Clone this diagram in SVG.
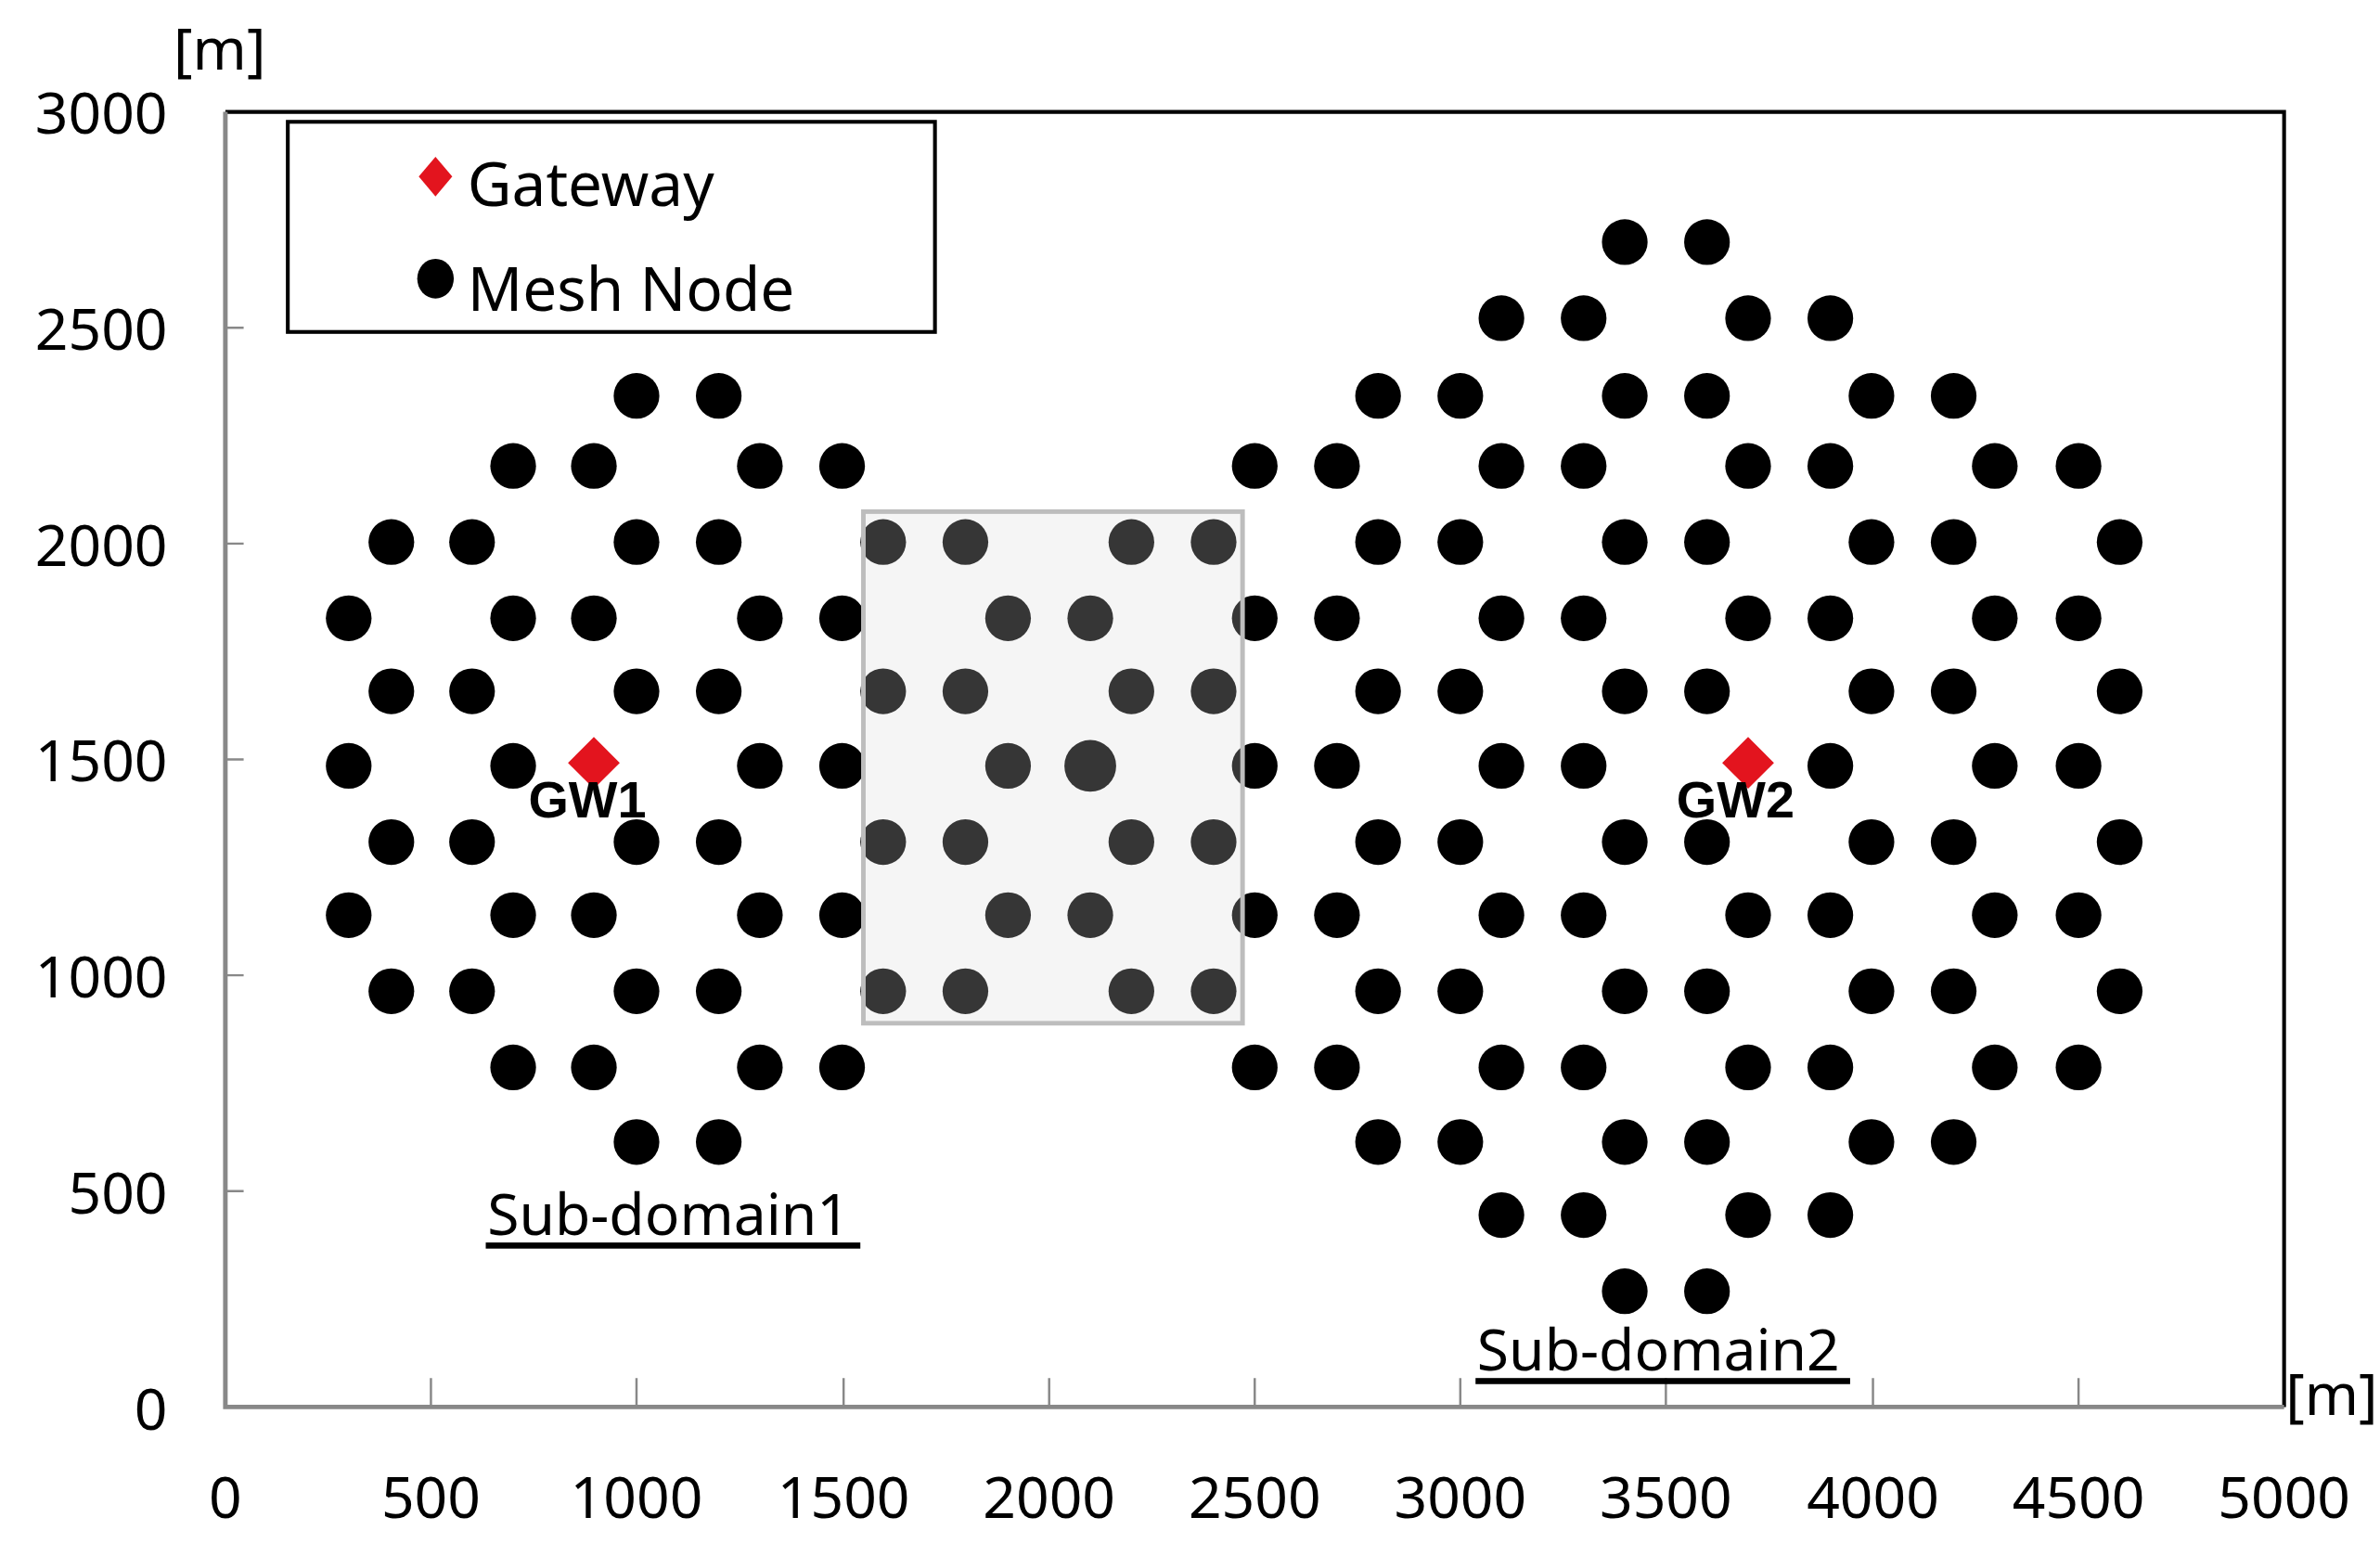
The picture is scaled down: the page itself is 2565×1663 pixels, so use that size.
<svg xmlns="http://www.w3.org/2000/svg" width="2565" height="1663" viewBox="0 0 2565 1663">
<style>
text{font-family:"Noto Sans","Open Sans",sans-serif;fill:#000}
.t{font-size:38px}
.lg{font-size:40px}
.yl{text-anchor:end}
.xl{text-anchor:middle}
.n{fill:#000}
.gw{font-weight:bold;font-size:34px;font-family:"Liberation Sans",Arial,sans-serif}
</style>
<defs>
<circle id="d" r="15" class="n"/>
<path id="dm" d="M0,-17 L17,0 L0,17 L-17,0Z" fill="#e3141e"/>
</defs>
<rect width="2565" height="1663" fill="#fff"/>
<g transform="scale(1.6411)">
<g id="axes">
<path d="M148,73.5 H1500 V924" fill="none" stroke="#000" stroke-width="2.5"/>
<path d="M148,73.5 V924 H1500" fill="none" stroke="#888" stroke-width="3"/>
<g stroke="#888" stroke-width="1.5">
<path d="M283,924V905M418,924V905M554,924V905M689,924V905M824,924V905M959,924V905M1094,924V905M1230,924V905M1365,924V905"/>
<path d="M148,215.2H160M148,357H160M148,498.7H160M148,640.5H160M148,782.2H160"/>
</g>
<g class="t yl">
<text x="110" y="88">3000</text><text x="110" y="230">2500</text><text x="110" y="372">2000</text><text x="110" y="513">1500</text><text x="110" y="655">1000</text><text x="110" y="797">500</text><text x="110" y="939">0</text>
</g>
<g class="t xl">
<text x="148" y="997">0</text><text x="283" y="997">500</text><text x="418" y="997">1000</text><text x="554" y="997">1500</text><text x="689" y="997">2000</text><text x="824" y="997">2500</text><text x="959" y="997">3000</text><text x="1094" y="997">3500</text><text x="1230" y="997">4000</text><text x="1365" y="997">4500</text><text x="1500" y="997">5000</text>
</g>
<text class="t" x="114" y="46">[m]</text>
<text class="t" x="1501" y="929">[m]</text>
</g>
<g id="nodes">
<use href="#d" x="418" y="260"/><use href="#d" x="472" y="260"/>
<use href="#d" x="337" y="306"/><use href="#d" x="390" y="306"/><use href="#d" x="499" y="306"/><use href="#d" x="553" y="306"/>
<use href="#d" x="257" y="356"/><use href="#d" x="310" y="356"/><use href="#d" x="418" y="356"/><use href="#d" x="472" y="356"/>
<use href="#d" x="580" y="356"/><use href="#d" x="634" y="356"/><use href="#d" x="743" y="356"/><use href="#d" x="797" y="356"/>
<use href="#d" x="229" y="406"/><use href="#d" x="337" y="406"/><use href="#d" x="390" y="406"/><use href="#d" x="499" y="406"/><use href="#d" x="553" y="406"/><use href="#d" x="662" y="406"/><use href="#d" x="716" y="406"/>
<use href="#d" x="257" y="454"/><use href="#d" x="310" y="454"/><use href="#d" x="418" y="454"/><use href="#d" x="472" y="454"/><use href="#d" x="580" y="454"/><use href="#d" x="634" y="454"/><use href="#d" x="743" y="454"/><use href="#d" x="797" y="454"/>
<use href="#d" x="229" y="503"/><use href="#d" x="337" y="503"/><use href="#d" x="499" y="503"/><use href="#d" x="553" y="503"/><use href="#d" x="662" y="503"/><circle cx="716" cy="503" r="17"/>
<use href="#d" x="257" y="553"/><use href="#d" x="310" y="553"/><use href="#d" x="418" y="553"/><use href="#d" x="472" y="553"/><use href="#d" x="580" y="553"/><use href="#d" x="634" y="553"/><use href="#d" x="743" y="553"/><use href="#d" x="797" y="553"/>
<use href="#d" x="229" y="601"/><use href="#d" x="337" y="601"/><use href="#d" x="390" y="601"/><use href="#d" x="499" y="601"/><use href="#d" x="553" y="601"/><use href="#d" x="662" y="601"/><use href="#d" x="716" y="601"/>
<use href="#d" x="257" y="651"/><use href="#d" x="310" y="651"/><use href="#d" x="418" y="651"/><use href="#d" x="472" y="651"/><use href="#d" x="580" y="651"/><use href="#d" x="634" y="651"/><use href="#d" x="743" y="651"/><use href="#d" x="797" y="651"/>
<use href="#d" x="337" y="701"/><use href="#d" x="390" y="701"/><use href="#d" x="499" y="701"/><use href="#d" x="553" y="701"/>
<use href="#d" x="418" y="750"/><use href="#d" x="472" y="750"/>
<use href="#d" x="1067" y="159"/><use href="#d" x="1121" y="159"/>
<use href="#d" x="986" y="209"/><use href="#d" x="1040" y="209"/><use href="#d" x="1148" y="209"/><use href="#d" x="1202" y="209"/>
<use href="#d" x="905" y="260"/><use href="#d" x="959" y="260"/><use href="#d" x="1067" y="260"/><use href="#d" x="1121" y="260"/><use href="#d" x="1229" y="260"/><use href="#d" x="1283" y="260"/>
<use href="#d" x="824" y="306"/><use href="#d" x="878" y="306"/><use href="#d" x="986" y="306"/><use href="#d" x="1040" y="306"/><use href="#d" x="1148" y="306"/><use href="#d" x="1202" y="306"/><use href="#d" x="1310" y="306"/><use href="#d" x="1365" y="306"/>
<use href="#d" x="905" y="356"/><use href="#d" x="959" y="356"/><use href="#d" x="1067" y="356"/><use href="#d" x="1121" y="356"/><use href="#d" x="1229" y="356"/><use href="#d" x="1283" y="356"/><use href="#d" x="1392" y="356"/>
<use href="#d" x="824" y="406"/><use href="#d" x="878" y="406"/><use href="#d" x="986" y="406"/><use href="#d" x="1040" y="406"/><use href="#d" x="1148" y="406"/><use href="#d" x="1202" y="406"/><use href="#d" x="1310" y="406"/><use href="#d" x="1365" y="406"/>
<use href="#d" x="905" y="454"/><use href="#d" x="959" y="454"/><use href="#d" x="1067" y="454"/><use href="#d" x="1121" y="454"/><use href="#d" x="1229" y="454"/><use href="#d" x="1283" y="454"/><use href="#d" x="1392" y="454"/>
<use href="#d" x="824" y="503"/><use href="#d" x="878" y="503"/><use href="#d" x="986" y="503"/><use href="#d" x="1040" y="503"/><use href="#d" x="1202" y="503"/><use href="#d" x="1310" y="503"/><use href="#d" x="1365" y="503"/>
<use href="#d" x="905" y="553"/><use href="#d" x="959" y="553"/><use href="#d" x="1067" y="553"/><use href="#d" x="1121" y="553"/><use href="#d" x="1229" y="553"/><use href="#d" x="1283" y="553"/><use href="#d" x="1392" y="553"/>
<use href="#d" x="824" y="601"/><use href="#d" x="878" y="601"/><use href="#d" x="986" y="601"/><use href="#d" x="1040" y="601"/><use href="#d" x="1148" y="601"/><use href="#d" x="1202" y="601"/><use href="#d" x="1310" y="601"/><use href="#d" x="1365" y="601"/>
<use href="#d" x="905" y="651"/><use href="#d" x="959" y="651"/><use href="#d" x="1067" y="651"/><use href="#d" x="1121" y="651"/><use href="#d" x="1229" y="651"/><use href="#d" x="1283" y="651"/><use href="#d" x="1392" y="651"/>
<use href="#d" x="824" y="701"/><use href="#d" x="878" y="701"/><use href="#d" x="986" y="701"/><use href="#d" x="1040" y="701"/><use href="#d" x="1148" y="701"/><use href="#d" x="1202" y="701"/><use href="#d" x="1310" y="701"/><use href="#d" x="1365" y="701"/>
<use href="#d" x="905" y="750"/><use href="#d" x="959" y="750"/><use href="#d" x="1067" y="750"/><use href="#d" x="1121" y="750"/><use href="#d" x="1229" y="750"/><use href="#d" x="1283" y="750"/>
<use href="#d" x="986" y="798"/><use href="#d" x="1040" y="798"/><use href="#d" x="1148" y="798"/><use href="#d" x="1202" y="798"/>
<use href="#d" x="1067" y="848"/><use href="#d" x="1121" y="848"/>
</g>
<g id="overlap">
<rect x="567" y="336" width="249" height="336" fill="#d9d9d9" fill-opacity="0.25" stroke="#bdbdbd" stroke-width="3"/>
<rect x="567" y="336" width="249" height="336" fill="#fff" fill-opacity="0.0"/>
</g>
<g id="gateways">
<use href="#dm" x="390" y="501"/>
<use href="#dm" x="1148" y="501"/>
<text class="gw" x="347" y="537">GW1</text>
<text class="gw" x="1101" y="537">GW2</text>
</g>
<g id="labels">
<text class="t" x="320" y="811">Sub-domain1</text>
<rect x="319" y="816" width="246" height="4"/>
<text class="t" x="970" y="900">Sub-domain2</text>
<rect x="969" y="905" width="246" height="4"/>
</g>
<g id="legend">
<rect x="189" y="80" width="425" height="138" fill="#fff" stroke="#000" stroke-width="2.5"/>
<path d="M286,103 L297,116 L286,129 L275,116Z" fill="#e3141e"/>
<ellipse cx="286" cy="183" rx="12" ry="13"/>
<text class="lg" x="307" y="135">Gateway</text>
<text class="lg" x="307" y="204">Mesh Node</text>
</g>
</g>
</svg>
